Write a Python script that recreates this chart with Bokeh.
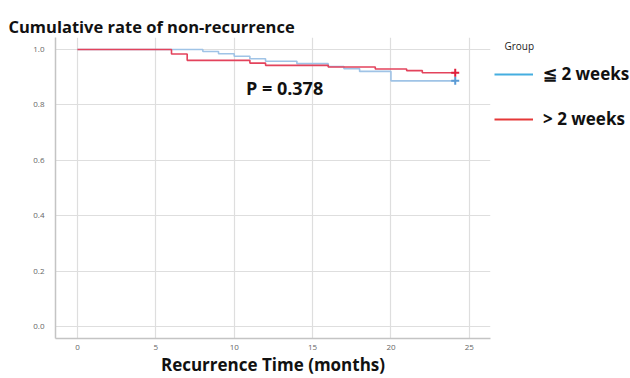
from bokeh.plotting import figure
from bokeh.layouts import row
from bokeh.models import (Range1d, FixedTicker, NumeralTickFormatter, Legend, LegendItem)
from bokeh.core.properties import value
from bokeh.embed import file_html
from bokeh.resources import INLINE

# ---- data ----
group_labels = ["\u2266 2 weeks", "> 2 weeks"]
le2_time = [0.0, 8.0, 9.0, 10.0, 11.0, 12.0, 14.0, 16.0, 17.0, 18.0, 20.0, 24.1]
le2_surv = [1.0, 0.993, 0.985, 0.976, 0.967, 0.958, 0.949, 0.939, 0.931, 0.921, 0.887, 0.887]
gt2_time = [0.0, 6.0, 7.0, 11.0, 12.0, 16.0, 19.0, 21.0, 22.0, 24.1]
gt2_surv = [1.0, 0.984, 0.961, 0.951, 0.943, 0.937, 0.930, 0.924, 0.916, 0.916]
x_ticks = [0, 5, 10, 15, 20, 25]
y_ticks = [0.0, 0.2, 0.4, 0.6, 0.8, 1.0]
p_text = "P = 0.378"
p_pos = (10.75, 0.862)

FONT = "Open Sans"
H = 378

p = figure(width=492, height=H, output_backend="svg", toolbar_location=None,
           x_range=Range1d(-1.4, 26.35), y_range=Range1d(-0.0435, 1.0435),
           min_border_left=55, min_border_right=2, min_border_top=35, min_border_bottom=39)
p.outline_line_color = None
p.background_fill_color = "white"

# title
p.title.text = "Cumulative rate of non-recurrence"
p.title.text_font = FONT
p.title.text_font_size = "16.5px"
p.title.text_font_style = "bold"
p.title.text_color = "#111111"
p.title.standoff = 0
p.title.offset = -47

# axes
for ax in (p.xaxis[0], p.yaxis[0]):
    ax.axis_line_color = "#c4c4c4"
    ax.axis_line_width = 1.5
    ax.major_tick_line_color = None
    ax.minor_tick_line_color = None
    ax.major_label_text_font = FONT
    ax.major_label_text_font_size = "8px"
    ax.major_label_text_color = "#666666"
    ax.major_label_standoff = 5
p.xaxis.major_label_standoff = 0

p.xaxis.ticker = FixedTicker(ticks=x_ticks)
p.yaxis.ticker = FixedTicker(ticks=y_ticks)
p.yaxis.formatter = NumeralTickFormatter(format="0.0")
p.xaxis.axis_label = "Recurrence Time (months)"
p.xaxis.axis_label_text_font = FONT
p.xaxis.axis_label_text_font_size = "17px"
p.xaxis.axis_label_text_font_style = "bold"
p.xaxis.axis_label_text_color = "#111111"
p.xaxis.axis_label_standoff = 0

p.xgrid.ticker = FixedTicker(ticks=x_ticks)
p.ygrid.ticker = FixedTicker(ticks=y_ticks)
p.grid.grid_line_color = "#dedede"
p.grid.grid_line_width = 1.2

# curves
p.step(le2_time, le2_surv, mode="after", line_color="#9fc3e6", line_width=1.6)
p.step(gt2_time, gt2_surv, mode="after", line_color="#e3435c", line_width=1.6)
p.scatter([le2_time[-1]], [le2_surv[-1]], marker="cross", size=8, line_color="#5b9bd5", line_width=2)
p.scatter([gt2_time[-1]], [gt2_surv[-1]], marker="cross", size=8, line_color="#e0203c", line_width=2)

p.text(x=[p_pos[0]], y=[p_pos[1]], text=[p_text], text_font=value(FONT), text_font_size="18px",
       text_font_style="bold", text_baseline="middle", text_align="left", text_color="#111111")

# legend panel (separate figure to the right of the plot)
lf = figure(width=138, height=H, output_backend="svg", toolbar_location=None,
            x_range=Range1d(0, 1), y_range=Range1d(0, 1), x_axis_type=None, y_axis_type=None,
            min_border_left=0, min_border_right=0, min_border_top=37, min_border_bottom=0)
lf.outline_line_color = None
r_le2 = lf.line(le2_time, le2_surv, line_color="#45aee0", line_width=2, visible=False)
r_gt2 = lf.line(gt2_time, gt2_surv, line_color="#e53838", line_width=2, visible=False)
legend = Legend(items=[LegendItem(label=group_labels[0], renderers=[r_le2]),
                       LegendItem(label=group_labels[1], renderers=[r_gt2])],
                location="top_left")
legend.title = "\u00a0\u00a0\u00a0\u00a0Group"
legend.title_text_font = FONT
legend.title_text_font_size = "10px"
legend.title_text_font_style = "normal"
legend.title_text_color = "#222222"
legend.title_standoff = 9
legend.label_text_font = FONT
legend.label_text_font_size = "17px"
legend.label_text_font_style = "bold"
legend.label_text_color = "#111111"
legend.glyph_width = 39
legend.glyph_height = 20
legend.label_height = 20
legend.spacing = 22
legend.label_standoff = 10
legend.padding = 0
legend.margin = 2
legend.border_line_color = None
legend.background_fill_alpha = 0
legend.inactive_fill_alpha = 0
lf.add_layout(legend)

layout = row(p, lf)
open("out.html", "w").write(file_html(layout, INLINE))
